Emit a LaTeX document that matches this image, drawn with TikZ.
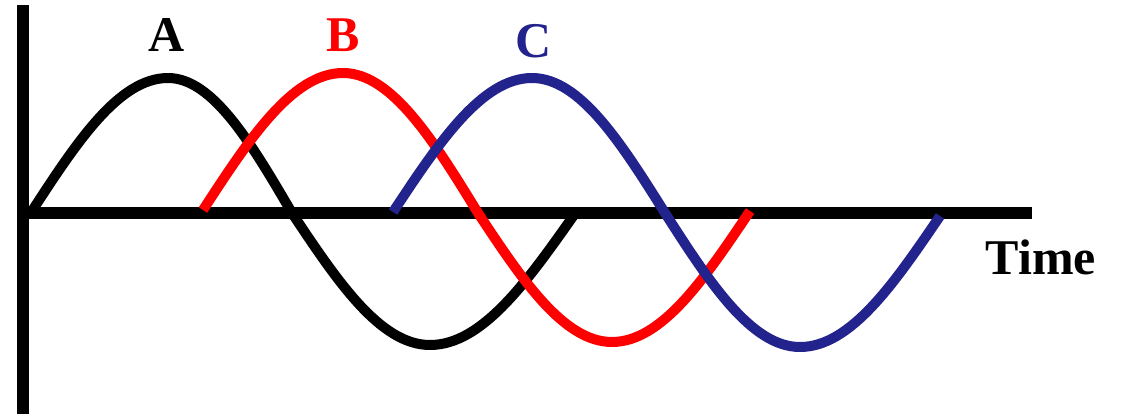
\documentclass[tikz,border=0pt]{standalone}
\usepackage{fontspec}
\setmainfont{Liberation Serif}
\definecolor{cblue}{RGB}{35,35,142}
\definecolor{cred}{RGB}{255,0,0}
\begin{document}
\begin{tikzpicture}[x=1pt,y=-1pt,
  wave/.style={line width=10pt, line join=round},
  axis/.style={line width=12pt},
  lab/.style={font=\bfseries\fontsize{50}{50}\selectfont, inner sep=0pt, anchor=base}]
\useasboundingbox (0,0) rectangle (1122,414);
\draw[axis] (23,5) -- (23,414);
\draw[axis] (29,213) -- (1032,213);
\draw[wave, black] (32,211) sin (168,78) cos (292,213) sin (430,345) cos (574,215);
\draw[wave, cred] (203,210) sin (343,73) cos (478,213) sin (612,342) cos (750,211);
\draw[wave, cblue] (393,212) sin (532,78) cos (665,213) sin (800,347) cos (940,216);
\node[lab] (la) at (167,52) {A};
\node[lab, text=cred] (lb) at (343,52) {B};
\node[lab, text=cblue] (lc) at (534,58) {C};
\node[lab] (lt) at (1041,275) {Time};
\end{tikzpicture}
\end{document}
